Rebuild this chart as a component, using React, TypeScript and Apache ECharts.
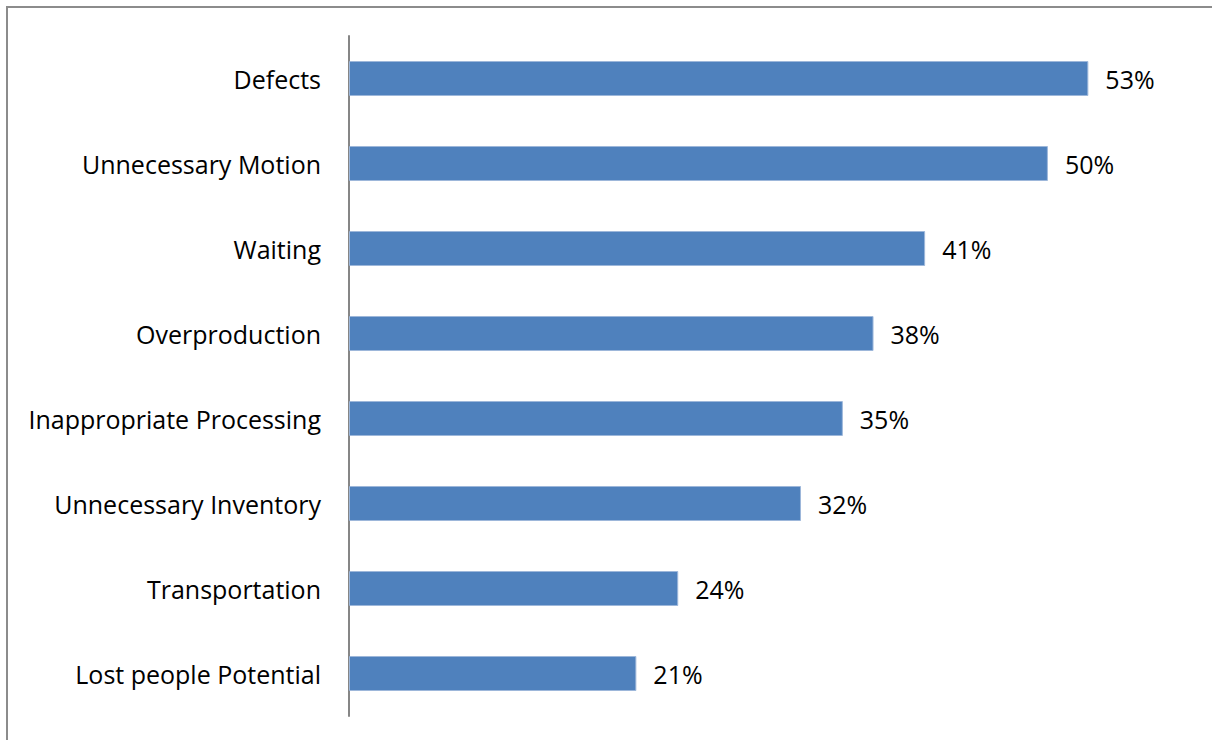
import React, { useEffect, useRef } from "react";
import * as echarts from "echarts";

const categories = [
  "Lost people Potential",
  "Transportation",
  "Unnecessary Inventory",
  "Inappropriate Processing",
  "Overproduction",
  "Waiting",
  "Unnecessary Motion",
  "Defects",
];
const values = [20.6, 23.6, 32.4, 35.4, 37.6, 41.3, 50.1, 53.0];

export default function App() {
  const ref = useRef<HTMLDivElement>(null);
  useEffect(() => {
    const chart = echarts.init(ref.current!, undefined, { renderer: "svg" });
    const font = "'Open Sans', sans-serif";
    chart.setOption({
      animation: false,
      backgroundColor: "#ffffff",
      graphic: [
        {
          type: "rect",
          shape: { x: 7, y: 7, width: 1230, height: 760 },
          style: { fill: "none", stroke: "#8c8c8c", lineWidth: 2 },
          silent: true,
        },
      ],
      grid: { left: 349, right: 26, top: 36, bottom: 24, containLabel: false },
      xAxis: {
        type: "value",
        min: 0,
        max: 60,
        show: false,
      },
      yAxis: {
        type: "category",
        data: categories,
        axisLine: { show: true, lineStyle: { color: "#868686", width: 2 } },
        axisTick: { show: false },
        axisLabel: {
          color: "#000000",
          fontSize: 25,
          fontFamily: font,
          margin: 28,
        },
      },
      series: [
        {
          type: "bar",
          data: values,
          barWidth: 35,
          itemStyle: { color: "#4F81BD", borderColor: "#9DB7DA", borderWidth: 1 },
          label: {
            show: true,
            position: "right",
            distance: 17,
            color: "#000000",
            fontSize: 25,
            fontFamily: font,
            formatter: (p: any) => Math.round(p.value) + "%",
          },
        },
      ],
    });
    return () => chart.dispose();
  }, []);
  return (
    <div
      ref={ref}
      style={{ position: "fixed", left: 0, top: 0, width: 1212, height: 740 }}
    />
  );
}
